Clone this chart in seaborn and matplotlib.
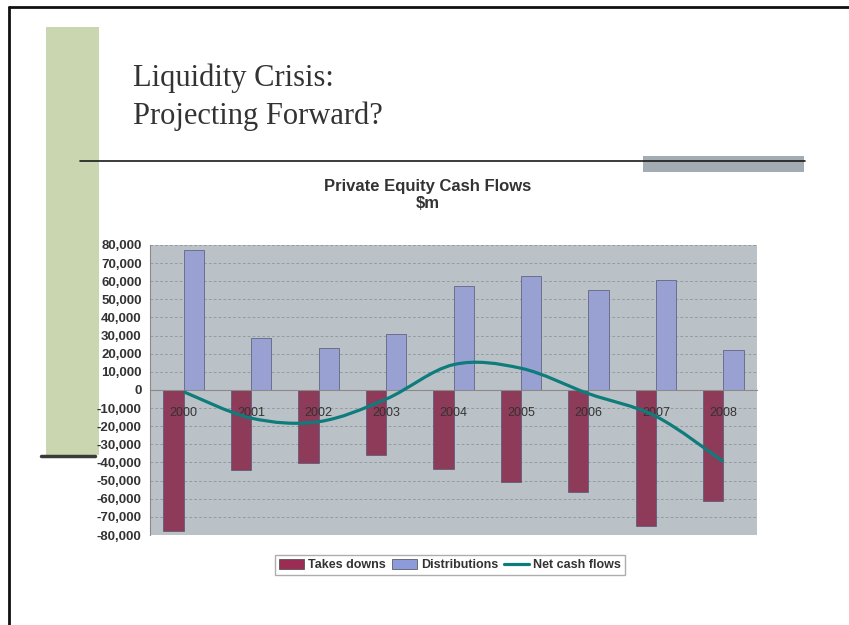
import numpy as np
import pandas as pd
import matplotlib
matplotlib.use("Agg")
import matplotlib.pyplot as plt
import seaborn as sns
from matplotlib.patches import Rectangle, Patch, PathPatch
from matplotlib.lines import Line2D
from matplotlib.path import Path
from matplotlib.ticker import FuncFormatter, MultipleLocator

# ---------------- data ----------------
years = ["2000", "2001", "2002", "2003", "2004", "2005", "2006", "2007", "2008"]
takedowns = [-78000, -44000, -40500, -36000, -43500, -51000, -56500, -75000, -61500]
distributions = [77000, 28500, 23000, 31000, 57500, 63000, 55000, 60500, 22000]
net_cash_flows = [-1000, -15500, -17500, -5000, 14000, 12000, -2000, -14500, -39500]
series_names = ["Takes downs", "Distributions", "Net cash flows"]

slide_title = ["Liquidity Crisis:", "Projecting Forward?"]
chart_title = "Private Equity Cash Flows\n$m"

# ---------------- style ----------------
c_take = "#9B2D55"
c_dist = "#8E9BDB"
c_net = "#0E7C7B"
c_plot_bg = "#BBC2C7"

sns.set_style("white")
plt.rcParams["font.family"] = ["Liberation Sans", "DejaVu Sans"]

W, H = 849, 625
fig = plt.figure(figsize=(W / 100, H / 100), dpi=100)
fig.patch.set_facecolor("white")

def fx(x):
    return x / W

def fy(y):
    return 1 - y / H

# ---------------- slide decorations ----------------
fig.add_artist(Rectangle((fx(46), fy(455)), fx(53), (455 - 27) / H,
                         transform=fig.transFigure, facecolor="#C9D6B0",
                         edgecolor="none", zorder=0))
fig.add_artist(Line2D([fx(41), fx(95)], [fy(456), fy(456)],
                      transform=fig.transFigure, color="#3a3a3a", lw=2.5))
fig.add_artist(Rectangle((fx(643), fy(172)), fx(161), 16 / H,
                         transform=fig.transFigure, facecolor="#A3ABB3",
                         edgecolor="none", zorder=0))
fig.add_artist(Line2D([fx(80), fx(805)], [fy(161), fy(161)],
                      transform=fig.transFigure, color="#1a1a1a", lw=1.2))
# frame border
fig.add_artist(Line2D([fx(9), fx(849)], [fy(7), fy(7)],
                      transform=fig.transFigure, color="#111111", lw=2))
fig.add_artist(Line2D([fx(9), fx(9)], [fy(7), fy(625)],
                      transform=fig.transFigure, color="#111111", lw=2))

fig.text(fx(133), fy(78), slide_title[0], family="Liberation Serif",
         fontsize=22, color="#333333", va="center", ha="left")
fig.text(fx(133), fy(116), slide_title[1], family="Liberation Serif",
         fontsize=22, color="#333333", va="center", ha="left")

fig.text(fx(428), fy(195), chart_title, ha="center", va="center",
         fontsize=12, fontweight="bold", color="#333333", linespacing=1.15)

# ---------------- chart ----------------
ax = fig.add_axes([fx(150), fy(535), fx(607), 290 / H])
ax.set_facecolor(c_plot_bg)

df = pd.DataFrame({
    "Year": years * 2,
    "Series": [series_names[0]] * len(years) + [series_names[1]] * len(years),
    "Value": takedowns + distributions,
})
sns.barplot(data=df, x="Year", y="Value", hue="Series", order=years,
            hue_order=series_names[:2], palette=[c_take, c_dist],
            width=0.6, dodge=True, ax=ax, legend=False,
            edgecolor="#555577", linewidth=0.5, zorder=3)

# smoothed net cash flow line (Catmull-Rom -> cubic Bezier)
xs = np.arange(len(years), dtype=float)
ys = np.array(net_cash_flows, dtype=float)
pts = np.column_stack([xs, ys])
ext = np.vstack([pts[0], pts, pts[-1]])
verts = [tuple(pts[0])]
codes = [Path.MOVETO]
for i in range(len(pts) - 1):
    p0, p1, p2, p3 = ext[i], ext[i + 1], ext[i + 2], ext[i + 3]
    c1 = p1 + (p2 - p0) / 6.0
    c2 = p2 - (p3 - p1) / 6.0
    verts += [tuple(c1), tuple(c2), tuple(p2)]
    codes += [Path.CURVE4] * 3
ax.add_patch(PathPatch(Path(verts, codes), facecolor="none",
                       edgecolor=c_net, lw=2.3, zorder=7))

ax.set_xlim(-0.5, len(years) - 0.5)
ax.set_ylim(-80000, 80000)
ax.yaxis.set_major_locator(MultipleLocator(10000))
ax.yaxis.set_major_formatter(FuncFormatter(lambda v, p: f"{int(v):,}"))
ax.grid(axis="y", color="#858d93", linestyle=(0, (4, 3)), lw=0.5, zorder=0)
ax.grid(axis="x", visible=False)
ax.set_axisbelow(True)
ax.xaxis.set_zorder(6)

for s in ["top", "right"]:
    ax.spines[s].set_visible(False)
ax.spines["left"].set_color("#8a8a8a")
ax.spines["left"].set_linewidth(0.8)
ax.spines["bottom"].set_position(("data", 0))
ax.spines["bottom"].set_color("#8a8a8a")
ax.spines["bottom"].set_linewidth(0.8)
ax.spines["bottom"].set_zorder(4)

ax.tick_params(axis="y", direction="out", length=4, color="#8a8a8a",
               labelsize=9.5, labelcolor="#333333", pad=2)
for lab in ax.get_yticklabels():
    lab.set_fontweight("bold")
ax.set_xticks(xs)
ax.set_xticklabels(years)
ax.tick_params(axis="x", which="major", length=0, pad=12,
               labelsize=9, labelcolor="#333333")
ax.set_xticks(xs[:-1] + 0.5, minor=True)
ax.tick_params(axis="x", which="minor", direction="inout", length=5,
               color="#8a8a8a")
ax.set_xlabel("")
ax.set_ylabel("")

handles = [Patch(facecolor=c_take, edgecolor="#444444", lw=0.5),
           Patch(facecolor=c_dist, edgecolor="#444444", lw=0.5),
           Line2D([0], [0], color=c_net, lw=2.3)]
leg = fig.legend(handles, series_names, loc="center",
                 bbox_to_anchor=(fx(450), fy(565)), ncol=3, frameon=True,
                 fancybox=False, edgecolor="#999999", handlelength=2.0,
                 handleheight=0.8, handletextpad=0.3, columnspacing=0.5,
                 borderpad=0.3, prop={"weight": "bold", "size": 9})
for t in leg.get_texts():
    t.set_color("#333333")

fig.savefig("out.png", dpi=100, facecolor="white")
